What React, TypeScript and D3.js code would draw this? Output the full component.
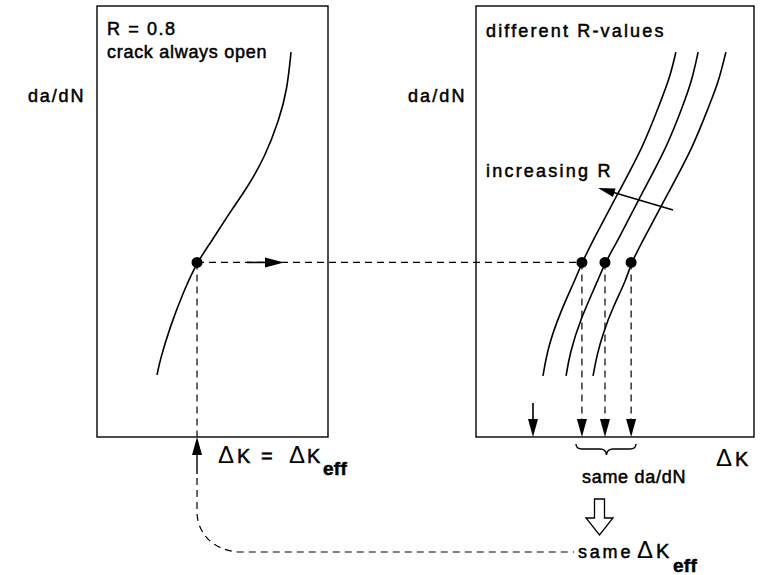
import * as d3 from 'd3';

// schematic units: 0..100 across each panel, 0..100 up the panels
const leftCurve: [number, number][] = [
  [26.0, 14.4], [27.3, 17.9], [31.6, 25.5], [37.2, 33.4], [43.3, 40.6], [49.4, 45.2],
  [56.7, 51.5], [64.9, 57.7], [72.7, 65.0], [78.8, 73.5], [82.3, 80.5], [84.0, 89.3],
];

const rightCurveA: [number, number][] = [
  [24.1, 14.2], [25.9, 20.9], [30.2, 28.8], [35.6, 36.4], [38.1, 40.4], [42.1, 45.7],
  [51.1, 56.6], [60.1, 67.3], [66.2, 77.5], [69.8, 83.5], [71.9, 89.3],
];
const rightCurveB: [number, number][] = [
  [32.4, 14.2], [33.8, 19.5], [37.4, 27.1], [43.9, 36.4], [46.4, 40.4], [51.1, 45.7],
  [59.7, 56.6], [68.7, 67.3], [74.8, 77.5], [77.7, 82.8], [79.9, 89.3],
];
const rightCurveC: [number, number][] = [
  [42.1, 14.2], [43.5, 19.0], [45.7, 24.1], [49.3, 30.2], [54.0, 36.4], [55.8, 40.4],
  [60.1, 45.7], [69.1, 56.6], [78.1, 67.3], [84.2, 77.5], [87.1, 82.1], [89.9, 89.3],
];
const rightCurves = [rightCurveA, rightCurveB, rightCurveC];

const dadnLevel = 40.5;
const leftDotK = 43.3;
const rightDotK = [38.1, 46.4, 55.8];
const extraArrowK = 20.5;

const W = 771;
const H = 575;

const yS = d3.scaleLinear().domain([0, 100]).range([437, 6]);
const xL = d3.scaleLinear().domain([0, 100]).range([97, 328]);
const xR = d3.scaleLinear().domain([0, 100]).range([476, 754]);

const font = "'Liberation Sans', Arial, sans-serif";
const txt = {
  fontFamily: font,
  fontSize: 18,
  letterSpacing: 1.6,
  fill: '#000',
  stroke: '#000',
  strokeWidth: 0.5,
} as const;
const delta = { ...txt, fontSize: 24, letterSpacing: 0, strokeWidth: 0 } as const;
const kk = { ...txt, fontSize: 20, letterSpacing: 0 } as const;
const sub = { ...txt, fontSize: 19, fontWeight: 'bold', letterSpacing: 0.3 } as const;

// filled triangle arrowhead with tip at (x,y), pointing along angle (radians)
function head(x: number, y: number, ang: number, len = 17, wid = 10) {
  const bx = x - Math.cos(ang) * len;
  const by = y - Math.sin(ang) * len;
  const px = -Math.sin(ang) * (wid / 2);
  const py = Math.cos(ang) * (wid / 2);
  return `${x},${y} ${bx + px},${by + py} ${bx - px},${by - py}`;
}

export default function App() {
  const lineL = d3
    .line<[number, number]>()
    .x((d) => xL(d[0]))
    .y((d) => yS(d[1]))
    .curve(d3.curveBasis);
  const lineR = d3
    .line<[number, number]>()
    .x((d) => xR(d[0]))
    .y((d) => yS(d[1]))
    .curve(d3.curveBasis);

  const yLevel = yS(dadnLevel);
  const yBottom = yS(0);
  const lx = xL(leftDotK);
  const dash = '7,5';

  const hx = 599.5; // hollow arrow centre
  const hollow = [
    [hx - 5, 499], [hx + 5, 499], [hx + 5, 518], [hx + 13.5, 518],
    [hx, 535], [hx - 13.5, 518], [hx - 5, 518],
  ]
    .map((p) => p.join(','))
    .join(' ');

  return (
    <svg
      width={W}
      height={H}
      style={{ position: 'absolute', left: 0, top: 0, background: '#fff' }}
    >
      <rect width={W} height={H} fill="#fff" />
      {/* panels */}
      <rect x={xL(0)} y={yS(100)} width={xL(100) - xL(0)} height={yS(0) - yS(100)}
        fill="none" stroke="#000" strokeWidth={1.4} />
      <rect x={xR(0)} y={yS(100)} width={xR(100) - xR(0)} height={yS(0) - yS(100)}
        fill="none" stroke="#000" strokeWidth={1.4} />

      {/* curves */}
      <path d={lineL(leftCurve) ?? ''} fill="none" stroke="#000" strokeWidth={1.6} />
      {rightCurves.map((c, i) => (
        <path key={i} d={lineR(c) ?? ''} fill="none" stroke="#000" strokeWidth={1.6} />
      ))}

      {/* horizontal dashed level */}
      <line x1={lx} y1={yLevel} x2={xR(rightDotK[0])} y2={yLevel}
        stroke="#000" strokeWidth={1.2} strokeDasharray={dash} />
      <line x1={247} y1={yLevel} x2={268} y2={yLevel} stroke="#000" strokeWidth={1.6} />
      <polygon points={head(284, yLevel, 0, 19, 10)} fill="#000" />

      {/* left vertical dashed down to axis and around the bottom */}
      <line x1={lx} y1={yLevel} x2={lx} y2={yBottom} stroke="#000" strokeWidth={1.2}
        strokeDasharray={dash} />
      <line x1={lx} y1={yBottom + 12} x2={lx} y2={474} stroke="#000" strokeWidth={1.4} />
      <polygon points={head(lx, yBottom, -Math.PI / 2, 18, 10)} fill="#000" />
      <path d={`M${lx},478 L${lx},512 C${lx},532 212,550 238,552 L574,552`} fill="none"
        stroke="#000" strokeWidth={1.2} strokeDasharray={dash} />

      {/* right verticals with arrowheads */}
      {rightDotK.map((k, i) => (
        <g key={i}>
          <line x1={xR(k)} y1={yLevel} x2={xR(k)} y2={yBottom - 14} stroke="#000"
            strokeWidth={1.2} strokeDasharray={dash} />
          <polygon points={head(xR(k), yBottom, Math.PI / 2, 18, 10)} fill="#000" />
        </g>
      ))}
      <line x1={xR(extraArrowK)} y1={403} x2={xR(extraArrowK)} y2={yBottom - 12}
        stroke="#000" strokeWidth={1.6} />
      <polygon points={head(xR(extraArrowK), yBottom, Math.PI / 2, 18, 10)} fill="#000" />

      {/* dots */}
      <circle cx={lx} cy={yLevel} r={5.5} fill="#000" />
      {rightDotK.map((k, i) => (
        <circle key={i} cx={xR(k)} cy={yLevel} r={5.5} fill="#000" />
      ))}

      {/* increasing R arrow */}
      <line x1={673} y1={210} x2={612} y2={192} stroke="#000" strokeWidth={1.5} />
      <polygon points={head(598, 188, Math.atan2(188 - 210, 598 - 673), 17, 9)} fill="#000" />

      {/* brace */}
      <path d="M576,444 Q576,449 582,449 L600,449 Q606,449 606.5,455 Q607,449 613,449 L630,449 Q636,449 636,444"
        fill="none" stroke="#000" strokeWidth={1.4} />

      {/* hollow arrow */}
      <polygon points={hollow} fill="#fff" stroke="#000" strokeWidth={1.3} />

      {/* text */}
      <text x={28} y={102} {...txt} textLength={57} lengthAdjust="spacing">da/dN</text>
      <text x={408} y={102} {...txt} textLength={58} lengthAdjust="spacing">da/dN</text>
      <text x={107} y={35} {...txt}>R = 0.8</text>
      <text x={107} y={58} {...txt} textLength={161} lengthAdjust="spacing">crack always open</text>
      <text x={486} y={37} {...txt} textLength={179} lengthAdjust="spacing">different R-values</text>
      <text x={486} y={177} {...txt} textLength={126} lengthAdjust="spacing">increasing R</text>

      <text x={218} y={463} {...delta}>Δ</text>
      <text x={237} y={463} {...kk}>K</text>
      <text x={261} y={463} {...kk}>=</text>
      <text x={289} y={463} {...delta}>Δ</text>
      <text x={307} y={463} {...kk}>K</text>
      <text x={323} y={475} {...sub}>eff</text>

      <text x={716} y={466} {...delta}>Δ</text>
      <text x={735} y={466} {...kk}>K</text>
      <text x={582} y={483} {...txt} textLength={105} lengthAdjust="spacing">same da/dN</text>

      <text x={578} y={558} {...txt} textLength={54} lengthAdjust="spacing">same</text>
      <text x={637} y={558} {...delta}>Δ</text>
      <text x={656} y={558} {...kk}>K</text>
      <text x={673} y={572} {...sub}>eff</text>
    </svg>
  );
}
